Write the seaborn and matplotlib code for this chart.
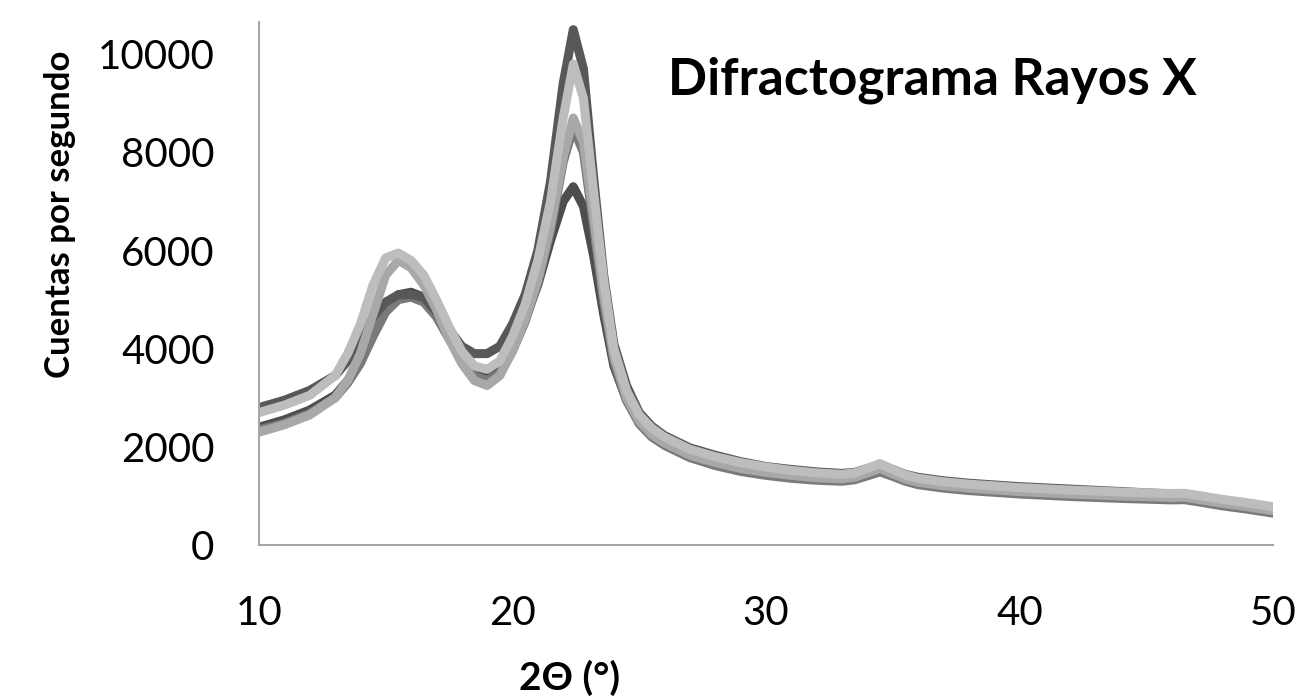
import numpy as np
import pandas as pd
import seaborn as sns
import matplotlib.pyplot as plt

# 2-theta positions (degrees)
two_theta = [10, 11, 12, 13, 13.5, 14, 14.5, 15, 15.5, 16,
             16.5, 17, 17.5, 18, 18.5, 19, 19.5, 20, 20.5, 21,
             21.5, 22, 22.4, 22.8, 23.2, 23.6, 24, 24.5, 25, 25.5,
             26, 27, 28, 29, 30, 31, 32, 33, 33.5, 34,
             34.5, 35, 35.5, 36, 37, 38, 40, 42, 44, 46,
             46.5, 47, 48, 49, 50]

# counts per second
muestra_f = [2400, 2550, 2750, 3050, 3350, 3750, 4300, 4850, 5100, 5150,
             5050, 4750, 4300, 3900, 3600, 3500, 3650, 4050, 4600, 5300,
             6200, 7000, 7300, 6900, 5900, 4700, 3650, 2950, 2500, 2250,
             2080, 1850, 1700, 1590, 1510, 1450, 1410, 1390, 1420, 1500,
             1580, 1480, 1380, 1320, 1250, 1200, 1130, 1080, 1040, 1010,
             1015, 975, 890, 820, 740]
muestra_d = [2350, 2480, 2680, 3000, 3300, 3700, 4250, 4750, 5000, 5050,
             4950, 4650, 4200, 3750, 3450, 3350, 3500, 3950, 4550, 5350,
             6400, 7800, 8500, 8000, 6500, 4950, 3750, 2950, 2470, 2200,
             2030, 1780, 1620, 1500, 1420, 1360, 1320, 1300, 1330, 1410,
             1490, 1400, 1300, 1230, 1160, 1110, 1040, 990, 950, 920,
             925, 885, 800, 730, 650]
muestra_a = [2800, 2950, 3150, 3450, 3750, 4150, 4650, 4950, 5100, 5100,
             5050, 4750, 4400, 4050, 3900, 3900, 4050, 4500, 5100, 6000,
             7400, 9400, 10500, 9700, 7500, 5500, 4100, 3250, 2700, 2420,
             2230, 1980, 1830, 1700, 1600, 1540, 1490, 1460, 1480, 1560,
             1640, 1540, 1440, 1380, 1310, 1260, 1190, 1140, 1090, 1040,
             1045, 1005, 920, 850, 770]
muestra_e = [2300, 2450, 2650, 3000, 3350, 3900, 4700, 5500, 5800, 5650,
             5300, 4800, 4200, 3700, 3350, 3250, 3450, 3950, 4600, 5400,
             6500, 7900, 8700, 8200, 6700, 5100, 3850, 3000, 2520, 2250,
             2080, 1830, 1680, 1560, 1480, 1420, 1370, 1350, 1380, 1470,
             1560, 1450, 1350, 1280, 1210, 1160, 1090, 1040, 1000, 970,
             975, 935, 850, 780, 700]
muestra_c = [2700, 2850, 3050, 3450, 3900, 4500, 5300, 5850, 5950, 5800,
             5500, 5000, 4450, 3950, 3650, 3580, 3750, 4250, 4900, 5800,
             7000, 8700, 9800, 9100, 7200, 5400, 4000, 3150, 2650, 2380,
             2200, 1950, 1800, 1680, 1590, 1520, 1470, 1440, 1470, 1560,
             1660, 1540, 1430, 1360, 1290, 1240, 1170, 1120, 1080, 1050,
             1055, 1015, 930, 860, 780]

series = {'F': muestra_f, 'D': muestra_d, 'A': muestra_a, 'E': muestra_e, 'C': muestra_c}
colores = {'F': '#4d4d4d', 'D': '#7a7a7a', 'A': '#585858', 'E': '#a8a8a8', 'C': '#bdbdbd'}

df = pd.concat([pd.DataFrame({'x': two_theta, 'y': v, 'serie': k}) for k, v in series.items()])

sns.set_style('white')
plt.rcParams['font.family'] = ['Lato', 'DejaVu Sans']
plt.rcParams['text.color'] = 'black'
plt.rcParams['xtick.color'] = 'black'
plt.rcParams['ytick.color'] = 'black'
plt.rcParams['axes.labelcolor'] = 'black'

fig = plt.figure(figsize=(12.98, 6.97), dpi=100)
ax = fig.add_axes([0.1995, 0.218, 0.7812, 0.75])
sns.lineplot(data=df, x='x', y='y', hue='serie', hue_order=list(series.keys()),
             palette=colores, linewidth=6.5, legend=False, ax=ax, sort=False)

ax.set_xlim(10, 50)
ax.set_ylim(0, 10650)
ax.set_xticks([10, 20, 30, 40, 50])
ax.set_yticks([0, 2000, 4000, 6000, 8000, 10000])
ax.tick_params(length=0, labelsize=29)
ax.tick_params(axis='x', pad=36)
ax.tick_params(axis='y', pad=32)
ax.set_xlabel('')
ax.set_ylabel('Cuentas por segundo', fontsize=25, fontweight='bold')
ax.yaxis.set_label_coords(-0.180, 0.633)
for s in ['top', 'right']:
    ax.spines[s].set_visible(False)
for s in ['left', 'bottom']:
    ax.spines[s].set_color('#a6a6a6')
    ax.spines[s].set_linewidth(1.5)

fig.text(0.5146, 0.885, 'Difractograma Rayos X', fontsize=37, fontweight='bold',
         ha='left', va='center')
fig.text(0.439, 0.028, '2Θ (°)', fontsize=28, fontweight='bold', ha='center', va='center')

fig.savefig('out.png', dpi=100)
